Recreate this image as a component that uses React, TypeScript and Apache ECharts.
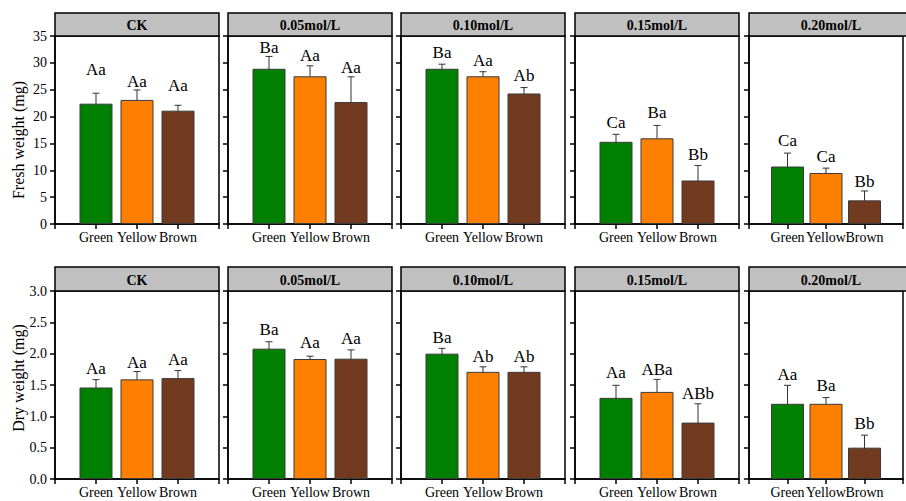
import React, { useEffect, useRef } from "react";
import * as echarts from "echarts";

const categories = ["Green", "Yellow", "Brown"];
const panels = ["CK", "0.05mol/L", "0.10mol/L", "0.15mol/L", "0.20mol/L"];
const colors = ["#008000", "#FF8000", "#723A1E"];

// Fresh weight (mg)
const freshGreen = [22.4, 28.9, 28.9, 15.3, 10.7];
const freshYellow = [23.1, 27.5, 27.5, 15.95, 9.5];
const freshBrown = [21.1, 22.7, 24.3, 8.1, 4.4];
const freshGreenErr = [1.95, 2.3, 0.85, 1.4, 2.5];
const freshYellowErr = [1.85, 1.95, 0.85, 2.4, 0.9];
const freshBrownErr = [1.0, 4.7, 1.1, 2.8, 1.75];
const freshLetters = [
  ["Aa", "Aa", "Aa"],
  ["Ba", "Aa", "Aa"],
  ["Ba", "Aa", "Ab"],
  ["Ca", "Ba", "Bb"],
  ["Ca", "Ca", "Bb"],
];
const freshLetterY = [
  [28.7, 26.5, 25.7],
  [32.8, 31.3, 29.1],
  [31.9, 30.5, 27.6],
  [18.9, 20.8, 13.0],
  [15.6, 12.5, 7.9],
];

// Dry weight (mg)
const dryGreen = [1.46, 2.08, 2.0, 1.295, 1.2];
const dryYellow = [1.59, 1.915, 1.71, 1.39, 1.2];
const dryBrown = [1.61, 1.92, 1.71, 0.9, 0.5];
const dryGreenErr = [0.125, 0.11, 0.085, 0.2, 0.295];
const dryYellowErr = [0.125, 0.045, 0.08, 0.2, 0.1];
const dryBrownErr = [0.12, 0.14, 0.08, 0.3, 0.2];
const dryLetters = [
  ["Aa", "Aa", "Aa"],
  ["Ba", "Aa", "Aa"],
  ["Ba", "Ab", "Ab"],
  ["Aa", "ABa", "ABb"],
  ["Aa", "Ba", "Bb"],
];
const dryLetterY = [
  [1.76, 1.86, 1.91],
  [2.39, 2.18, 2.25],
  [2.26, 1.96, 1.95],
  [1.7, 1.75, 1.37],
  [1.66, 1.49, 0.89],
];

const FONT = '"Liberation Serif", "Times New Roman", serif';

export default function App() {
  const ref = useRef<HTMLDivElement>(null);
  useEffect(() => {
    if (!ref.current) return;
    const chart = echarts.init(ref.current, null, { renderer: "svg" });

    const colLeft = [55, 228, 401, 575, 749];
    const panelW = 164;
    const rows = [
      {
        top: 36, height: 188, headerY: 13, headerH: 23, max: 35, interval: 5,
        vals: [freshGreen, freshYellow, freshBrown],
        errs: [freshGreenErr, freshYellowErr, freshBrownErr],
        letters: freshLetters, letterY: freshLetterY,
        fmt: (v: number) => String(v),
        name: "Fresh weight (mg)", nameY: 140,
      },
      {
        top: 291, height: 188, headerY: 267, headerH: 24, max: 3, interval: 0.5,
        vals: [dryGreen, dryYellow, dryBrown],
        errs: [dryGreenErr, dryYellowErr, dryBrownErr],
        letters: dryLetters, letterY: dryLetterY,
        fmt: (v: number) => v.toFixed(1),
        name: "Dry weight (mg)", nameY: 378,
      },
    ];

    const grid: any[] = [];
    const xAxis: any[] = [];
    const yAxis: any[] = [];
    const series: any[] = [];
    const graphic: any[] = [];

    rows.forEach((row, r) => {
      panels.forEach((p, c) => {
        const gi = r * 5 + c;
        grid.push({
          left: colLeft[c], top: row.top, width: panelW, height: row.height,
          show: true, borderColor: "#000", borderWidth: 1.5, backgroundColor: "transparent",
          containLabel: false,
        });
        xAxis.push({
          type: "value", gridIndex: gi, min: 0, max: 4, interval: 1,
          axisLine: { show: true, lineStyle: { color: "#000", width: 1.5 } },
          axisTick: { show: true, length: 5, lineStyle: { color: "#000", width: 1.5 } },
          splitLine: { show: false },
          axisLabel: {
            margin: 6, color: "#000", fontFamily: FONT, fontSize: 14,
            formatter: (v: number) => (v >= 1 && v <= 3 ? categories[v - 1] : ""),
          },
        });
        yAxis.push({
          type: "value", gridIndex: gi, min: 0, max: row.max, interval: row.interval,
          axisLine: { show: true, lineStyle: { color: "#000", width: 1.5 } },
          axisTick: { show: true, length: 5, lineStyle: { color: "#000", width: 1.5 } },
          splitLine: { show: false },
          axisLabel: {
            show: c === 0, margin: 8, color: "#000", fontFamily: FONT, fontSize: 14,
            formatter: row.fmt,
          },
        });
        series.push({
          type: "bar", xAxisIndex: gi, yAxisIndex: gi, barWidth: 33,
          data: categories.map((_, k) => ({
            value: [k + 1, row.vals[k][c]],
            itemStyle: { color: colors[k], borderColor: "#3a3a3a", borderWidth: 1 },
          })),
        });
        series.push({
          type: "custom", xAxisIndex: gi, yAxisIndex: gi,
          data: categories.map((_, k) => [k + 1, row.vals[k][c] - row.errs[k][c], row.vals[k][c] + row.errs[k][c]]),
          renderItem: (params: any, api: any) => {
            const x = api.value(0);
            const hi = api.coord([x, api.value(2)]);
            const lo = api.coord([x, api.value(1)]);
            const cap = 3.5;
            const st = { stroke: "#333", lineWidth: 1 };
            return {
              type: "group",
              children: [
                { type: "line", shape: { x1: hi[0], y1: hi[1], x2: lo[0], y2: lo[1] }, style: st },
                { type: "line", shape: { x1: hi[0] - cap, y1: hi[1], x2: hi[0] + cap, y2: hi[1] }, style: st },
                { type: "line", shape: { x1: lo[0] - cap, y1: lo[1], x2: lo[0] + cap, y2: lo[1] }, style: st },
              ],
            };
          },
        });
        const lettersHere = row.letters[c];
        series.push({
          type: "custom", xAxisIndex: gi, yAxisIndex: gi,
          data: categories.map((_, k) => [k + 1, row.letterY[c][k]]),
          renderItem: (params: any, api: any) => {
            const pt = api.coord([api.value(0), api.value(1)]);
            return {
              type: "text", x: pt[0], y: pt[1],
              style: {
                text: lettersHere[params.dataIndex], fill: "#000",
                font: `17px ${FONT}`, align: "center", verticalAlign: "middle",
              },
            };
          },
        });
        graphic.push({
          type: "rect",
          shape: { x: colLeft[c], y: row.headerY, width: panelW, height: row.headerH },
          style: { fill: "#C0C0C0", stroke: "#000", lineWidth: 1.5 },
        });
        graphic.push({
          type: "text",
          x: colLeft[c] + panelW / 2, y: row.headerY + row.headerH / 2 + 1,
          style: {
            text: p, fill: "#000", font: `bold 14px ${FONT}`,
            align: "center", verticalAlign: "middle",
          },
        });
      });
      graphic.push({
        type: "text", x: 18, y: row.nameY, rotation: Math.PI / 2,
        style: {
          text: row.name, fill: "#000", font: `16px ${FONT}`,
          align: "center", verticalAlign: "middle",
        },
      });
    });

    chart.setOption({
      animation: false,
      backgroundColor: "#fff",
      grid, xAxis, yAxis, series, graphic,
    });
    return () => chart.dispose();
  }, []);
  return (
    <div
      ref={ref}
      style={{ position: "fixed", left: 0, top: 0, width: 906, height: 501 }}
    />
  );
}
